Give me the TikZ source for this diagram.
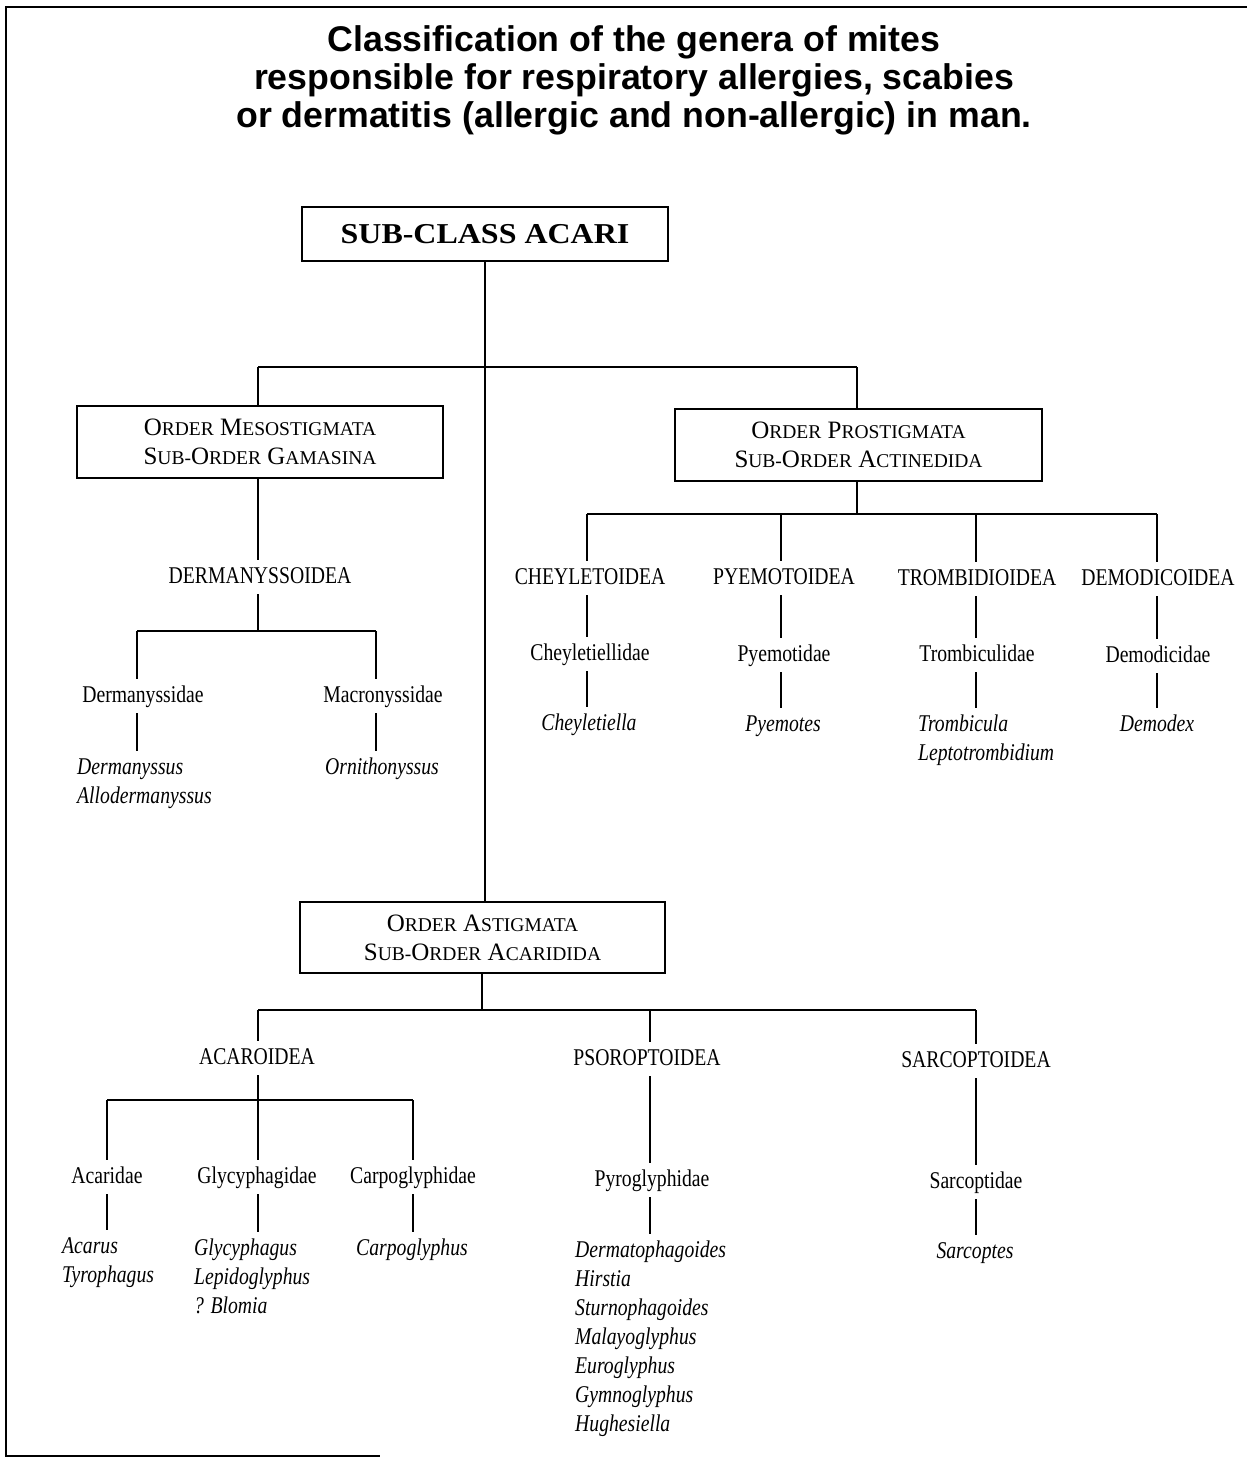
\documentclass[tikz,border=0pt]{standalone}
\usepackage{fontspec}
\setmainfont{Liberation Serif}[FakeStretch=0.82]
\newfontfamily\boxfont{Liberation Serif}
\newfontfamily\titlefont{Liberation Sans}
\newcommand\msc[2]{#1{\fontsize{19.5pt}{24pt}\selectfont #2}}
\newcommand\gl[1]{\begin{tabular}[t]{@{}l@{}}#1\end{tabular}}
\begin{document}
\begin{tikzpicture}[x=1pt,y=-1pt,
  conn/.style={line width=1.1pt},
  frame/.style={line width=2pt},
  txt/.style={font=\fontsize{24pt}{29pt}\selectfont, inner xsep=2pt, inner ysep=6pt, text height=17pt, text depth=5pt, anchor=base},
  gen/.style={txt, font=\fontsize{24pt}{29pt}\selectfont\itshape},
  genl/.style={font=\fontsize{24pt}{29pt}\selectfont\itshape, inner xsep=0pt, inner ysep=6pt, text height=17pt, anchor=base west},
  obox/.style={draw, line width=1.2pt, minimum width=366pt, minimum height=72pt, align=center, inner sep=0pt, font=\boxfont\fontsize{25pt}{29pt}\selectfont}
]
\useasboundingbox (0,0) rectangle (1247,1460);
% frame
\draw[frame] (1247,7) -- (6,7) -- (6,1456) -- (380,1456);
% title
\node[font=\titlefont\bfseries\fontsize{35.7pt}{38pt}\selectfont, align=center] (title) at (634,80)
  {Classification of the genera of mites\\responsible for respiratory allergies, scabies\\or dermatitis (allergic and non-allergic) in man.};
% boxes
\node[obox, minimum height=54pt] (acari) at (485,234) {\scalebox{1.11}[1]{\fontsize{28.8pt}{30pt}\selectfont\bfseries SUB-CLASS ACARI}};
\node[obox] (meso) at (260,442) {\msc{O}{RDER} \msc{M}{ESOSTIGMATA}\\\msc{S}{UB-}\msc{O}{RDER} \msc{G}{AMASINA}};
\node[obox, minimum width=367pt] (prost) at (858.5,445) {\msc{O}{RDER} \msc{P}{ROSTIGMATA}\\\msc{S}{UB-}\msc{O}{RDER} \msc{A}{CTINEDIDA}};
\node[obox, minimum width=365pt, minimum height=71pt] (astig) at (482.5,937.5) {\msc{O}{RDER} \msc{A}{STIGMATA}\\\msc{S}{UB-}\msc{O}{RDER} \msc{A}{CARIDIDA}};
% Mesostigmata branch
\node[txt] (dermsup) at (260,583) {DERMANYSSOIDEA};
\node[txt] (dermfam) at (143,702) {Dermanyssidae};
\node[txt] (macfam) at (383,702) {Macronyssidae};
\node[genl] (dermgen) at (77,774) {\gl{Dermanyssus\\Allodermanyssus}};
\node[gen] (macgen) at (382,774) {Ornithonyssus};
% Prostigmata branch
\node[txt] (cheysup) at (590,584) {CHEYLETOIDEA};
\node[txt] (pyemsup) at (784,584) {PYEMOTOIDEA};
\node[txt] (tromsup) at (977,585) {TROMBIDIOIDEA};
\node[txt] (demosup) at (1158,585) {DEMODICOIDEA};
\node[txt] (cheyfam) at (590,660) {Cheyletiellidae};
\node[txt] (pyemfam) at (784,661) {Pyemotidae};
\node[txt] (tromfam) at (977,661) {Trombiculidae};
\node[txt] (demofam) at (1158,662) {Demodicidae};
\node[gen] (cheygen) at (589,730) {Cheyletiella};
\node[gen] (pyemgen) at (783,731) {Pyemotes};
\node[genl] (tromgen) at (918,731) {\gl{Trombicula\\Leptotrombidium}};
\node[gen] (demogen) at (1157,731) {Demodex};
% Astigmata branch
\node[txt] (acarsup) at (257,1064) {ACAROIDEA};
\node[txt] (psorsup) at (647,1065) {PSOROPTOIDEA};
\node[txt] (sarcsup) at (976,1067) {SARCOPTOIDEA};
\node[txt] (acarfam) at (107,1183) {Acaridae};
\node[txt] (glycfam) at (257,1183) {Glycyphagidae};
\node[txt] (carpfam) at (413,1183) {Carpoglyphidae};
\node[txt] (pyrofam) at (652,1186) {Pyroglyphidae};
\node[txt] (sarcfam) at (976,1188) {Sarcoptidae};
\node[genl] (acargen) at (62,1253) {\gl{Acarus\\Tyrophagus}};
\node[genl] (glycgen) at (194,1255) {\gl{Glycyphagus\\Lepidoglyphus\\? Blomia}};
\node[gen] (carpgen) at (412,1255) {Carpoglyphus};
\node[genl] (pyrogen) at (575,1257) {\gl{Dermatophagoides\\Hirstia\\Sturnophagoides\\Malayoglyphus\\Euroglyphus\\Gymnoglyphus\\Hughesiella}};
\node[gen] (sarcgen) at (975,1258) {Sarcoptes};
% coordinates for bars
\coordinate (bl) at (258,367);
\coordinate (br) at (857,367);
\coordinate (ml) at (137,631);
\coordinate (mr) at (376,631);
\coordinate (p1) at (587,514);
\coordinate (p2) at (781,514);
\coordinate (p3) at (976,514);
\coordinate (p4) at (1157,514);
\coordinate (at) at (482,1010);
\coordinate (a1) at (258,1010);
\coordinate (a2) at (650,1010);
\coordinate (a3) at (976,1010);
\coordinate (c1) at (107,1100);
\coordinate (c3) at (413,1100);
\begin{scope}[conn]
% main trunk
\draw (acari.south) -- (acari.south |- astig.north);
\draw (bl) -- (br);
\draw (bl) -- (meso.north -| bl);
\draw (br) -- (prost.north -| br);
% Mesostigmata
\draw (meso.south -| bl) -- (dermsup.north -| bl);
\draw (dermsup.south -| bl) -- (bl |- ml);
\draw (ml) -- (mr);
\draw (ml) -- (dermfam.north -| ml);
\draw (mr) -- (macfam.north -| mr);
\draw (dermfam.south -| ml) -- (dermgen.north -| ml);
\draw (macfam.south -| mr) -- (macgen.north -| mr);
% Prostigmata
\draw (prost.south -| br) -- (br |- p1);
\draw (p1) -- (p4);
\draw (p1) -- (cheysup.north -| p1);
\draw (p2) -- (pyemsup.north -| p2);
\draw (p3) -- (tromsup.north -| p3);
\draw (p4) -- (demosup.north -| p4);
\draw (cheysup.south -| p1) -- (cheyfam.north -| p1);
\draw (pyemsup.south -| p2) -- (pyemfam.north -| p2);
\draw (tromsup.south -| p3) -- (tromfam.north -| p3);
\draw (demosup.south -| p4) -- (demofam.north -| p4);
\draw (cheyfam.south -| p1) -- (cheygen.north -| p1);
\draw (pyemfam.south -| p2) -- (pyemgen.north -| p2);
\draw (tromfam.south -| p3) -- (tromgen.north -| p3);
\draw (demofam.south -| p4) -- (demogen.north -| p4);
% Astigmata
\draw (astig.south -| at) -- (at);
\draw (a1) -- (a3);
\draw (a1) -- (acarsup.north -| a1);
\draw (a2) -- (psorsup.north -| a2);
\draw (a3) -- (sarcsup.north -| a3);
\draw (acarsup.south -| a1) -- (glycfam.north -| a1);
\draw (c1) -- (c3);
\draw (c1) -- (acarfam.north -| c1);
\draw (c3) -- (carpfam.north -| c3);
\draw (acarfam.south -| c1) -- (acargen.north -| c1);
\draw (glycfam.south -| a1) -- (glycgen.north -| a1);
\draw (carpfam.south -| c3) -- (carpgen.north -| c3);
\draw (psorsup.south -| a2) -- (pyrofam.north -| a2);
\draw (pyrofam.south -| a2) -- (pyrogen.north -| a2);
\draw (sarcsup.south -| a3) -- (sarcfam.north -| a3);
\draw (sarcfam.south -| a3) -- (sarcgen.north -| a3);
\end{scope}
\end{tikzpicture}
\end{document}
